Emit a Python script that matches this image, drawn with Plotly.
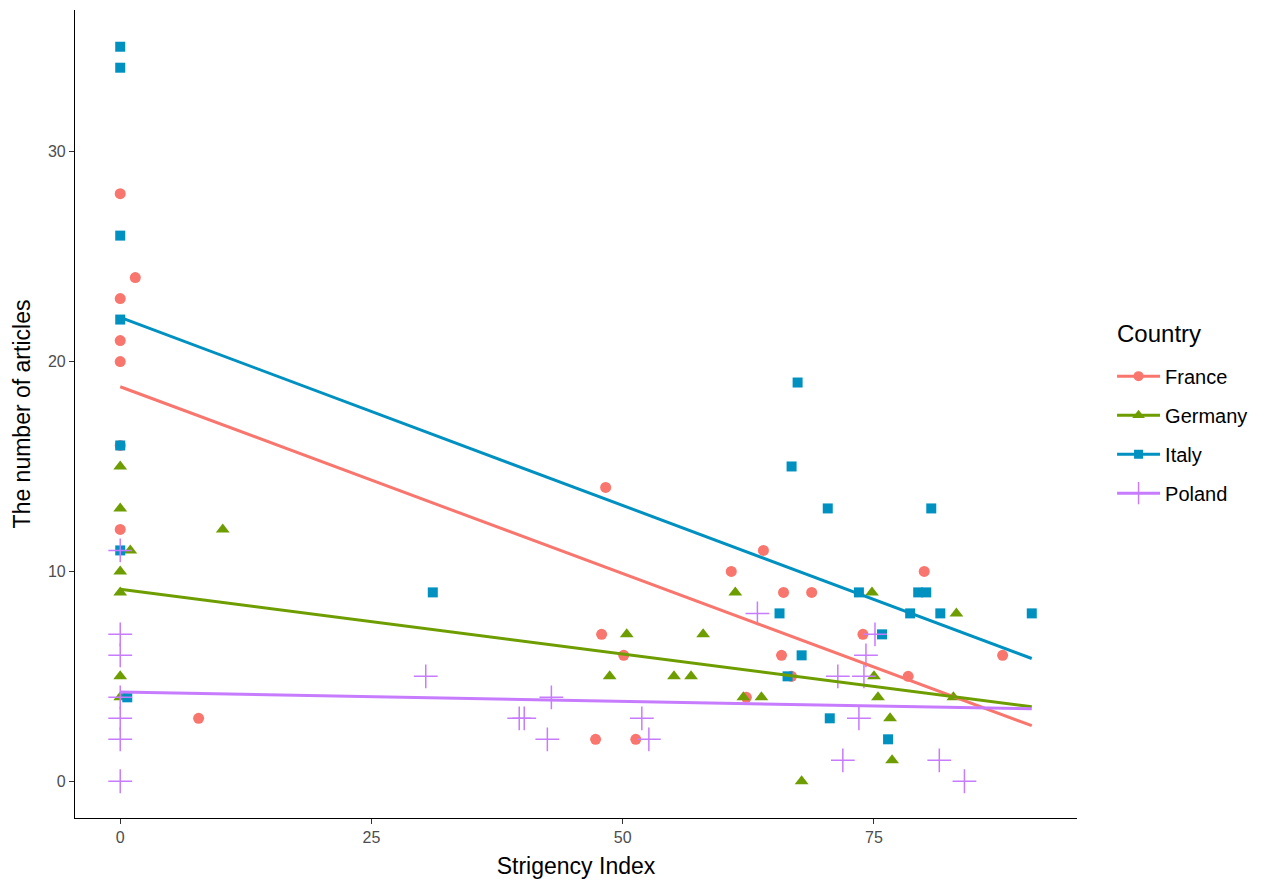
import plotly.graph_objects as go

countries = ["France", "Germany", "Italy", "Poland"]
colors = {"France": "#F8766D", "Germany": "#6E9D00", "Italy": "#0091C1", "Poland": "#C77CFF"}
symbols = {"France": "circle", "Germany": "triangle-up", "Italy": "square", "Poland": "cross-thin"}

france_x = [0, 0, 0, 0, 1.5, 0, 0, 7.8, 47.9, 48.3, 50.1, 47.3, 51.3, 60.8, 64, 62.3, 66, 68.8,
            65.8, 66.8, 73.9, 78.4, 80, 87.8]
france_y = [28, 23, 21, 20, 24, 16, 12, 3, 7, 14, 6, 2, 2, 10, 11, 4, 9, 9,
            6, 5, 7, 5, 10, 6]

germany_x = [0, 0, 1, 0, 0, 10.2, 0, 0, 48.7, 50.4, 55.1, 56.8, 58, 61.2, 62, 63.8, 67.8,
             74.8, 83.2, 75, 75.4, 76.6, 76.8, 82.9]
germany_y = [15, 13, 11, 10, 9, 12, 5, 4, 5, 7, 5, 5, 7, 9, 4, 4, 0,
             9, 8, 5, 4, 3, 1, 4]

italy_x = [0, 0, 0, 0, 0, 0, 0.7, 31.1, 67.4, 66.8, 65.6, 66.4, 67.8, 70.4, 70.6, 73.5,
           75.8, 76.4, 78.6, 79.4, 80.2, 80.7, 81.6, 90.7]
italy_y = [35, 34, 26, 22, 16, 11, 4, 9, 19, 15, 8, 5, 6, 13, 3, 9,
           7, 2, 8, 9, 9, 13, 8, 8]

poland_x = [0, 0, 0, 0, 0, 0, 0, 30.4, 39.7, 40.2, 42.9, 42.5, 51.9, 52.6, 63.4,
            71.4, 74, 74.2, 75.1, 73.5, 71.9, 81.5, 84]
poland_y = [7, 6, 3, 2, 0, 11, 4, 5, 3, 3, 4, 2, 3, 2, 8,
            5, 5, 6, 7, 3, 1, 1, 0]

# fitted line endpoints
fit_x = [0, 90.7]
fit_y = {"France": [18.8, 2.65], "Germany": [9.15, 3.55], "Italy": [22.1, 5.85], "Poland": [4.25, 3.45]}

data = {
    "France": (france_x, france_y),
    "Germany": (germany_x, germany_y),
    "Italy": (italy_x, italy_y),
    "Poland": (poland_x, poland_y),
}
msize = {"France": 11, "Germany": 12, "Italy": 10, "Poland": 17}

fig = go.Figure()
for c in countries:
    xs, ys = data[c]
    fig.add_trace(go.Scatter(
        x=xs, y=ys, mode="markers", showlegend=False, legendgroup=c,
        marker=dict(color=colors[c], symbol=symbols[c], size=msize[c],
                    line=dict(color=colors[c], width=1.5 if c == "Poland" else 0)),
    ))
for c in countries:
    fig.add_trace(go.Scatter(
        x=fit_x, y=fit_y[c], mode="lines", showlegend=False, legendgroup=c,
        line=dict(color=colors[c], width=3),
    ))
for c in countries:
    fig.add_trace(go.Scatter(
        x=[None], y=[None], mode="lines+markers", name=c, legendgroup=c,
        line=dict(color=colors[c], width=3),
        marker=dict(color=colors[c], symbol=symbols[c], size=msize[c] - 1,
                    line=dict(color=colors[c], width=1.5 if c == "Poland" else 0)),
    ))

axis_common = dict(
    showgrid=False, zeroline=False, showline=True, linecolor="black", linewidth=1.2,
    ticks="outside", ticklen=5, tickcolor="#333333", tickwidth=1,
    tickfont=dict(family="Liberation Sans, Arial", size=16, color="#4D4D4D"),
    mirror=False, automargin=False,
)
fig.update_layout(
    width=1268, height=883,
    margin=dict(l=67, r=199, t=2, b=73),
    paper_bgcolor="white", plot_bgcolor="white",
    font=dict(family="Liberation Sans, Arial", color="black"),
    xaxis=dict(range=[-4.5, 95.2], tickvals=[0, 25, 50, 75],
               title=dict(text="Strigency Index", font=dict(size=23), standoff=12),
               **axis_common),
    yaxis=dict(range=[-1.75, 36.75], tickvals=[0, 10, 20, 30],
               title=dict(text="The number of articles", font=dict(size=23), standoff=10),
               **axis_common),
    legend=dict(
        font=dict(size=20), x=1.035, xanchor="left", y=0.571, yanchor="top",
        tracegroupgap=10, itemwidth=43,
    ),
    annotations=[dict(
        text="Country", xref="paper", yref="paper", x=1.038, y=0.600,
        xanchor="left", yanchor="middle", showarrow=False,
        font=dict(size=24, color="black"),
    )],
)

fig.write_html("out.html")
